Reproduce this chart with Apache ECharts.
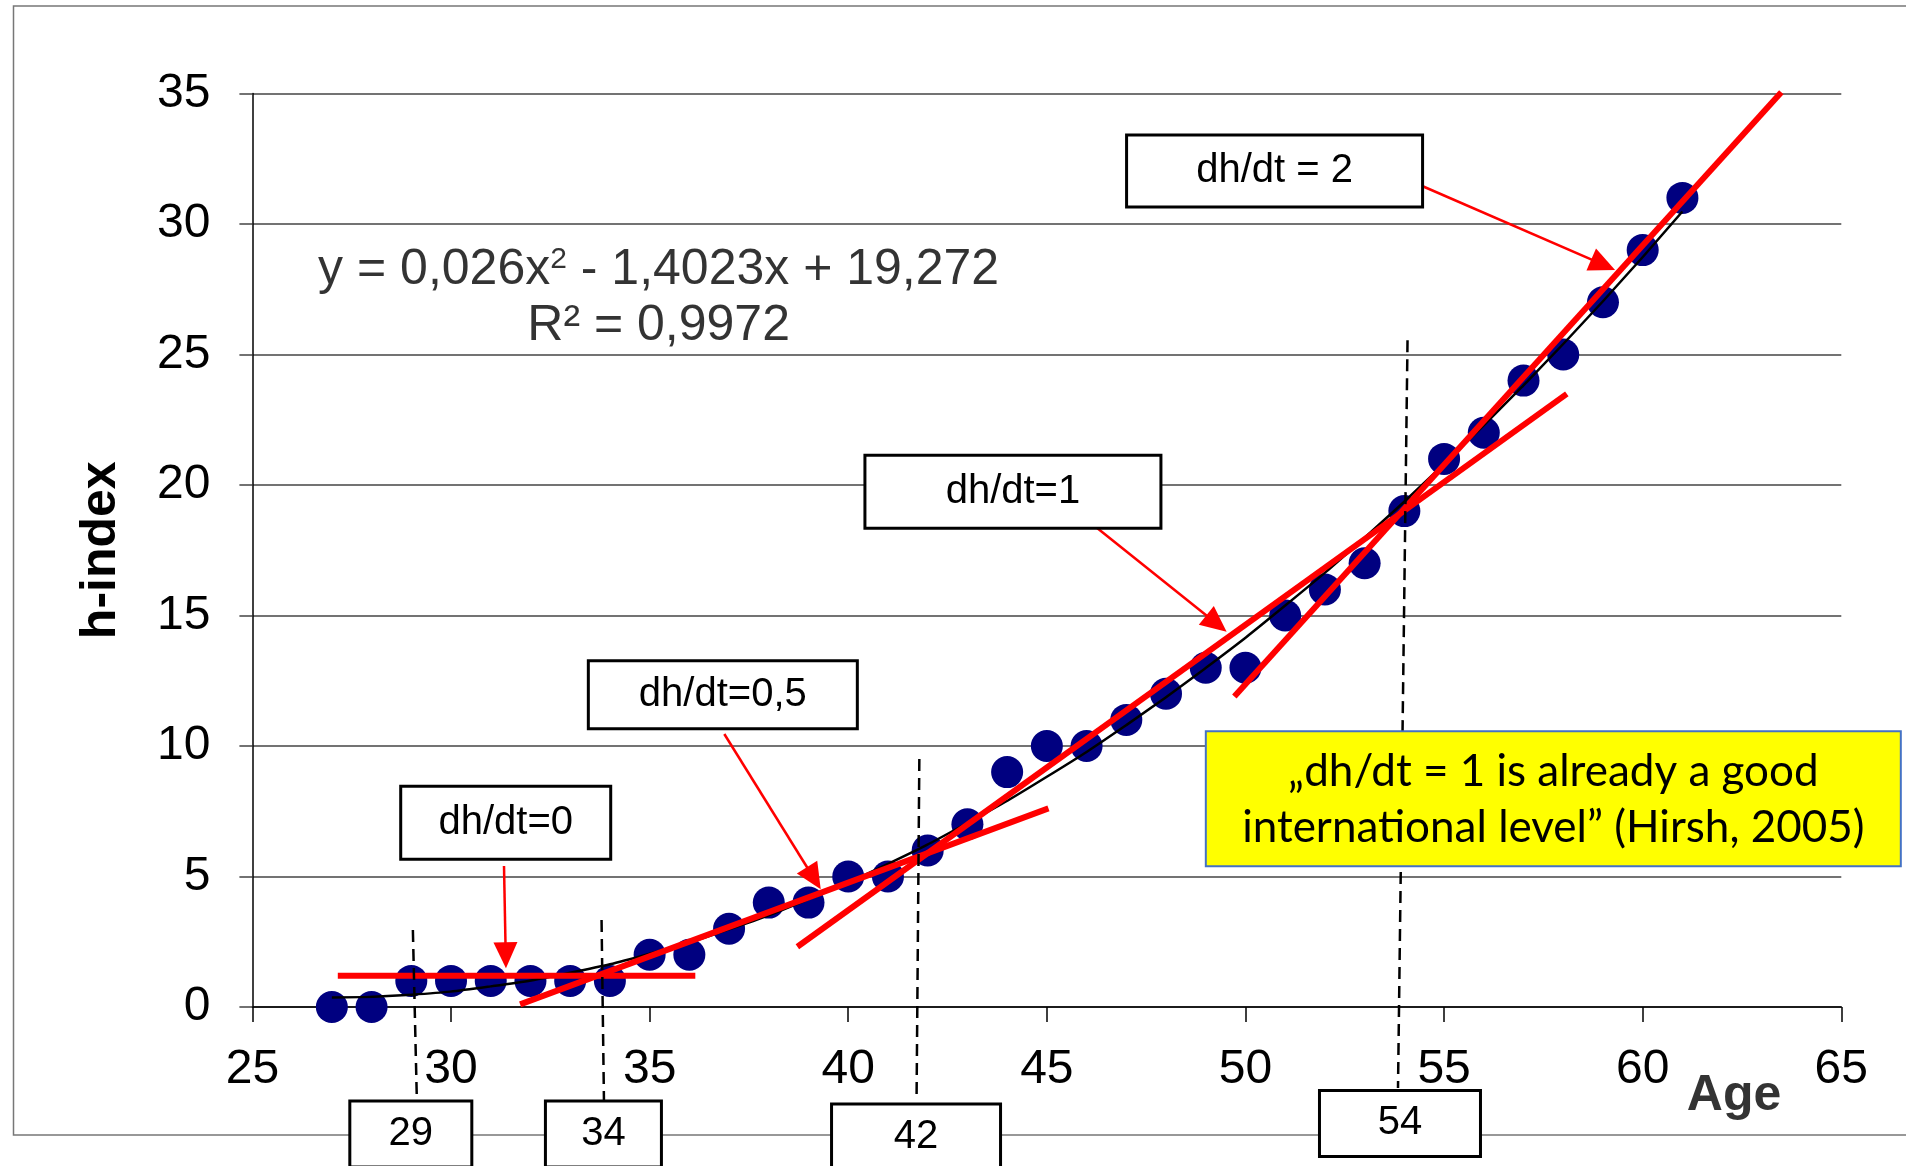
<!DOCTYPE html>
<html><head><meta charset="utf-8">
<script src="https://cdn.jsdelivr.net/npm/echarts@6.0.0/dist/echarts.min.js"></script>
<style>html,body{margin:0;padding:0;background:#fff}#c{width:1906px;height:1166px}</style>
</head><body><div id="c"></div>
<script>
// ---- data ----
const ages   = [27,28,29,30,31,32,33,34,35,36,37,38,39,40,41,42,43,44,45,46,47,48,49,50,51,52,53,54,55,56,57,58,59,60,61];
const hIndex = [0,0,1,1,1,1,1,1,2,2,3,4,4,5,5,6,7,9,10,10,11,12,13,13,15,16,17,19,21,22,24,25,27,29,31];
const trendAges   = [27,29,31,33,35,37,39,41,43,45,47,49,51,53,55,57,59,61];
const trendValues = [0.36,0.47,0.79,1.31,2.04,2.98,4.13,5.48,7.05,8.82,10.80,12.99,15.38,17.98,20.80,23.82,27.04,30.48];
const slopeFlat = [[27.15,1.2],[36.15,1.2]];
const slopeHalf = [[31.74,0.1],[45.04,7.61]];
const slopeOne  = [[38.72,2.31],[58.09,23.49]];
const slopeTwo  = [[49.72,11.9],[63.49,35.05]];
const markAges  = ['29','34','42','54'];
const boxTexts  = ['dh/dt = 2','dh/dt=1','dh/dt=0,5','dh/dt=0'];
const quoteLines = ['„dh/dt = 1 is already a good','international level” (Hirsh, 2005)'];
const eqLine1 = 'y = 0,026x{s|2} - 1,4023x + 19,272';
const eqLine2 = 'R² = 0,9972';
const xTickMin = 25, xTickMax = 65, xTickStep = 5;
const yTickMin = 0, yTickMax = 35, yTickStep = 5;

// ---- layout (annotation placement in data space) ----
const guideLayout = [
  [[29.04,2.95],[29.14,-3.56]],
  [[33.79,3.33],[33.85,-3.56]],
  [[41.79,9.5],[41.72,-3.56]],
  [[54.08,25.55],[53.84,-3.10]]
];
const markBoxLayout = [
  {c:[28.988,-4.87], s:[122,66]},
  {c:[33.837,-4.87], s:[116,66]},
  {c:[41.707,-4.98], s:[169,66]},
  {c:[53.89,-4.46],  s:[161,66]}
];
const boxLayout = [
  {c:[50.733,32.03], s:[296,72]},
  {c:[44.146,19.74], s:[296,73]},
  {c:[36.843,11.96], s:[269,68]},
  {c:[31.377,7.06],  s:[210,73]}
];
const arrowLayout = [
  [[54.26,31.58],[59.005,28.44]],
  [[46.17,18.47],[49.27,14.69]],
  [[36.88,10.46],[39.135,4.933]],
  [[31.334,5.40],[31.377,1.98]]
];
const quoteLayout = {c:[57.75,7.98], s:[695,135], lines:[[57.75,9.02],[57.75,6.86]]};
const FONT = "'Liberation Sans', Arial, sans-serif";
const QFONT = "Lato, 'Open Sans', sans-serif";

const chart = echarts.init(document.getElementById('c'), null, {renderer:'canvas'});

const series = [];
series.push({
  type:'scatter', name:'h', z:2, silent:true,
  symbol:'circle', symbolSize:32,
  itemStyle:{color:'#000080', opacity:1},
  data: ages.map((a,i)=>[a,hIndex[i]])
});
series.push({
  type:'line', name:'trend', z:3, silent:true, smooth:true, showSymbol:false, symbol:'none',
  lineStyle:{color:'#000', width:2.5},
  data: trendAges.map((a,i)=>[a,trendValues[i]])
});
[slopeFlat, slopeHalf, slopeOne, slopeTwo].forEach(seg=>{
  series.push({type:'line', z:4, silent:true, clip:false, showSymbol:false, symbol:'none',
    lineStyle:{color:'#ff0000', width:6, cap:'butt'}, data: seg});
});
guideLayout.forEach(seg=>{
  series.push({type:'line', z:5, silent:true, clip:false, showSymbol:false, symbol:'none',
    lineStyle:{color:'#000', width:2.5, type:[12,7]}, data: seg});
});
series.push({
  type:'line', z:6, silent:true, data:[],
  markLine:{
    silent:true, z:6, animation:false,
    symbol:['none','triangle'], symbolSize:[24,26],
    lineStyle:{color:'#ff0000', width:2.5, type:'solid'},
    itemStyle:{color:'#ff0000'},
    label:{show:false}, emphasis:{disabled:true},
    data: arrowLayout.map(a=>[{coord:a[0]},{coord:a[1]}])
  }
});
series.push({
  type:'scatter', z:9, silent:true, clip:false, symbolSize:1,
  itemStyle:{color:'rgba(0,0,0,0)'},
  label:{show:true, position:'inside', color:'#000', fontFamily:FONT, fontSize:50},
  data: [
    {value:[35.227,28.24], label:{formatter:eqLine1, rich:{s:{fontSize:30, verticalAlign:'top', fontFamily:FONT, color:'#000', padding:[0,0,18,0]}}}},
    {value:[35.227,26.10], label:{formatter:eqLine2}},
    {value:[62.3,-3.43], label:{formatter:'Age', fontWeight:'bold', fontSize:50}}
  ]
});

chart.setOption({
  animation:false,
  backgroundColor:'#fff',
  grid:{left:252.4, right:64.7, top:93.5, bottom:159, containLabel:false, outerBoundsMode:'none'},
  xAxis:{
    type:'value', min:xTickMin, max:xTickMax, interval:xTickStep,
    axisLine:{show:true, onZero:false, lineStyle:{color:'#000', width:1.5}},
    axisTick:{show:true, inside:false, length:15, lineStyle:{color:'#000', width:1.5}},
    axisLabel:{color:'#000', fontSize:48, fontFamily:FONT, margin:39},
    splitLine:{show:false}
  },
  yAxis:{
    type:'value', min:yTickMin, max:yTickMax, interval:yTickStep,
    name:'h-index', nameLocation:'middle', nameGap:126, nameRotate:90,
    nameTextStyle:{color:'#000', fontSize:50, fontWeight:'bold', fontFamily:FONT},
    axisLine:{show:true, lineStyle:{color:'#000', width:1.5}},
    axisTick:{show:true, inside:false, length:13, lineStyle:{color:'#444', width:1.5}},
    axisLabel:{color:'#000', fontSize:48, fontFamily:FONT, margin:42},
    splitLine:{show:true, lineStyle:{color:'#444', width:1.5}}
  },
  series: series
});

// ---- annotation boxes placed through the chart's own coordinate conversion ----
function px(p){ return chart.convertToPixel({gridIndex:0}, p); }
const graphics = [{type:'rect', silent:true, z:-10, shape:{x:13.5,y:6,width:1950,height:1129}, style:{fill:'none', stroke:'#777', lineWidth:1.5}}];
function addBox(c, s, text, fill, stroke, lw){
  const p = px(c);
  graphics.push({type:'rect', silent:true, z:100, shape:{x:p[0]-s[0]/2, y:p[1]-s[1]/2, width:s[0], height:s[1]},
    style:{fill:fill, stroke:stroke, lineWidth:lw}});
  if (text != null) graphics.push({type:'text', silent:true, z:101, x:p[0], y:p[1],
    style:{text:text, fill:'#000', font:"40px " + FONT, textAlign:'center', textVerticalAlign:'middle'}});
}
boxLayout.forEach((b,i)=>addBox(b.c, b.s, boxTexts[i], '#fff', '#000', 3));
markBoxLayout.forEach((b,i)=>addBox(b.c, b.s, markAges[i], '#fff', '#000', 3));
addBox(quoteLayout.c, quoteLayout.s, null, '#ffff00', '#4472C4', 2);
quoteLayout.lines.forEach((c,i)=>{
  const p = px(c);
  graphics.push({type:'text', silent:true, z:101, x:p[0], y:p[1],
    style:{text:quoteLines[i], fill:'#000', font:"44px " + QFONT, textAlign:'center', textVerticalAlign:'middle'}});
});
chart.setOption({graphic: graphics});
</script>
</body></html>
